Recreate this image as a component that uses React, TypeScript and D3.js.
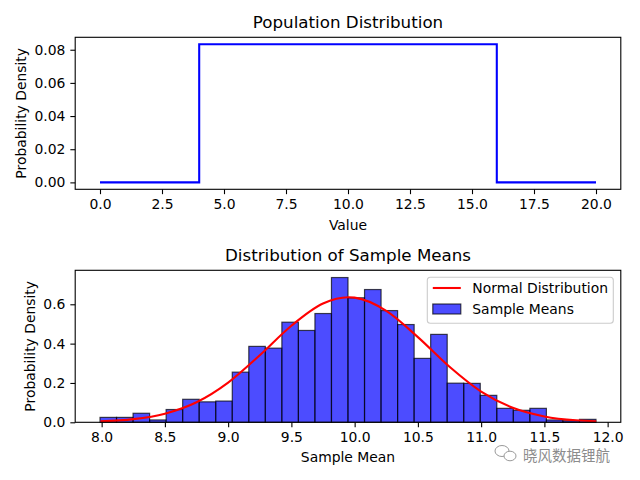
import { useEffect, useRef } from 'react';
import * as d3 from 'd3';

// Population (uniform 4..16) step line
const popX = [0, 4, 16, 20];
const popY = [0, 0.0833, 0, 0];
const popXTicks = [0, 2.5, 5, 7.5, 10, 12.5, 15, 17.5, 20];
const popYTicks = [0, 0.02, 0.04, 0.06, 0.08];

// Histogram of sample means (30 equal bins)
const binMin = 7.987;
const binMax = 11.908;
const sampleDensity = [
  0.025, 0.025, 0.046, 0.012, 0.065, 0.117, 0.104, 0.108, 0.255, 0.386,
  0.377, 0.509, 0.467, 0.553, 0.736, 0.633, 0.675, 0.568, 0.497, 0.325,
  0.447, 0.199, 0.198, 0.137, 0.071, 0.061, 0.071, 0.012, 0.008, 0.015,
];

// Normal curve
const normX = [7.99, 8.25, 8.5, 8.75, 9.0, 9.25, 9.5, 9.75, 9.95, 10.0, 10.25, 10.5, 10.75, 11.0, 11.25, 11.5, 11.75, 11.91];
const normY = [0.005, 0.016, 0.044, 0.102, 0.202, 0.341, 0.491, 0.604, 0.636, 0.634, 0.567, 0.433, 0.282, 0.156, 0.074, 0.03, 0.01, 0.005];

const meanXTicks = [8.0, 8.5, 9.0, 9.5, 10.0, 10.5, 11.0, 11.5, 12.0];
const meanYTicks = [0, 0.2, 0.4, 0.6];

const FONT = 'DejaVu Sans, sans-serif';

export default function App() {
  const svgRef = useRef<SVGSVGElement>(null);

  useEffect(() => {
    if (!svgRef.current) return;
    const width = 640;
    const height = 480;
    const svg = d3.select(svgRef.current);
    svg.selectAll('*').remove();
    svg.attr('width', width).attr('height', height);

    svg.append('rect').attr('width', width).attr('height', height).attr('fill', '#fff');

    const left = 75.2;
    const right = 620.8;

    const styleAxis = (g: d3.Selection<SVGGElement, unknown, null, undefined>) => {
      g.select('.domain').remove();
      g.selectAll('line').attr('stroke', '#000').attr('stroke-width', 1.1);
      g.selectAll('text')
        .attr('fill', '#000')
        .attr('font-family', FONT)
        .attr('font-size', '13.9px');
    };

    const frame = (top: number, bottom: number) => {
      svg.append('rect')
        .attr('x', left)
        .attr('y', top)
        .attr('width', right - left)
        .attr('height', bottom - top)
        .attr('fill', 'none')
        .attr('stroke', '#000')
        .attr('stroke-width', 1.1);
    };

    const label = (text: string, x: number, y: number, size: number, rotate = false) => {
      const t = svg.append('text')
        .attr('font-family', FONT)
        .attr('font-size', `${size}px`)
        .attr('fill', '#000')
        .attr('text-anchor', 'middle')
        .text(text);
      if (rotate) t.attr('transform', `translate(${x},${y}) rotate(-90)`);
      else t.attr('x', x).attr('y', y);
    };

    // ---------- Top: population distribution ----------
    const t1 = 37.3;
    const b1 = 189.3;
    const x1 = d3.scaleLinear().domain([-1, 21]).range([left, right]);
    const y1 = d3.scaleLinear().domain([-0.00417, 0.0875]).range([b1, t1]);

    const popLine = d3.line<number>()
      .x((d) => x1(popX[d]))
      .y((d) => y1(popY[d]))
      .curve(d3.curveStepAfter);

    svg.append('path')
      .datum(d3.range(popX.length))
      .attr('fill', 'none')
      .attr('stroke', '#0000ff')
      .attr('stroke-width', 2.08)
      .attr('d', popLine);

    frame(t1, b1);

    svg.append('g')
      .attr('transform', `translate(0,${b1})`)
      .call(d3.axisBottom(x1).tickValues(popXTicks).tickFormat(d3.format('.1f')).tickSize(4.86).tickPadding(4.9))
      .call(styleAxis);

    svg.append('g')
      .attr('transform', `translate(${left},0)`)
      .call(d3.axisLeft(y1).tickValues(popYTicks).tickFormat(d3.format('.2f')).tickSize(4.86).tickPadding(4.9))
      .call(styleAxis);

    label('Population Distribution', (left + right) / 2, 28, 16.7);
    label('Value', (left + right) / 2, 230, 13.9);
    label('Probability Density', 26, (t1 + b1) / 2, 13.9, true);

    // ---------- Bottom: distribution of sample means ----------
    const t2 = 270.3;
    const b2 = 422.3;
    const span = binMax - binMin;
    const x2 = d3.scaleLinear().domain([binMin - span * 0.05, binMax + span * 0.05]).range([left, right]);
    const y2 = d3.scaleLinear().domain([0, 0.736 * 1.05]).range([b2, t2]);
    const edge = d3.scaleLinear().domain([0, sampleDensity.length]).range([binMin, binMax]);

    svg.append('g')
      .selectAll('rect')
      .data(sampleDensity)
      .enter()
      .append('rect')
      .attr('x', (_, i) => x2(edge(i)))
      .attr('y', (d) => y2(d))
      .attr('width', (_, i) => x2(edge(i + 1)) - x2(edge(i)))
      .attr('height', (d) => y2(0) - y2(d))
      .attr('fill', 'rgba(0,0,255,0.7)')
      .attr('stroke', 'rgba(0,0,0,0.7)')
      .attr('stroke-width', 1.2);

    const normLine = d3.line<number>()
      .x((d) => x2(normX[d]))
      .y((d) => y2(normY[d]))
      .curve(d3.curveMonotoneX);

    svg.append('path')
      .datum(d3.range(normX.length))
      .attr('fill', 'none')
      .attr('stroke', '#ff0000')
      .attr('stroke-width', 2.08)
      .attr('d', normLine);

    frame(t2, b2);

    svg.append('g')
      .attr('transform', `translate(0,${b2})`)
      .call(d3.axisBottom(x2).tickValues(meanXTicks).tickFormat(d3.format('.1f')).tickSize(4.86).tickPadding(4.9))
      .call(styleAxis);

    svg.append('g')
      .attr('transform', `translate(${left},0)`)
      .call(d3.axisLeft(y2).tickValues(meanYTicks).tickFormat(d3.format('.1f')).tickSize(4.86).tickPadding(4.9))
      .call(styleAxis);

    label('Distribution of Sample Means', (left + right) / 2, 261, 16.7);
    label('Sample Mean', (left + right) / 2, 462, 13.9);
    label('Probability Density', 35, (t2 + b2) / 2, 13.9, true);

    // Legend
    const lg = svg.append('g').attr('transform', 'translate(427.3,277.3)');
    lg.append('rect')
      .attr('width', 186)
      .attr('height', 46)
      .attr('rx', 3)
      .attr('fill', 'rgba(255,255,255,0.8)')
      .attr('stroke', '#cccccc')
      .attr('stroke-width', 1.1);
    lg.append('line')
      .attr('x1', 5.5).attr('x2', 33.5)
      .attr('y1', 10.7).attr('y2', 10.7)
      .attr('stroke', '#ff0000')
      .attr('stroke-width', 2.08);
    lg.append('rect')
      .attr('x', 5.5).attr('y', 26.7)
      .attr('width', 28).attr('height', 10)
      .attr('fill', 'rgba(0,0,255,0.7)')
      .attr('stroke', 'rgba(0,0,0,0.7)')
      .attr('stroke-width', 1.2);
    const legendText = ['Normal Distribution', 'Sample Means'];
    lg.selectAll('text.lt')
      .data(legendText)
      .enter()
      .append('text')
      .attr('x', 45)
      .attr('y', (_, i) => 15.7 + i * 21)
      .attr('font-family', FONT)
      .attr('font-size', '13.9px')
      .attr('fill', '#000')
      .text((d) => d);

    // Watermark
    const wm = svg.append('g').attr('fill', 'none').attr('stroke', '#9a9a9a').attr('stroke-width', 1);
    wm.append('ellipse').attr('cx', 502).attr('cy', 451).attr('rx', 7).attr('ry', 5.5);
    wm.append('ellipse').attr('cx', 510).attr('cy', 456).attr('rx', 6).attr('ry', 4.8).attr('fill', '#fff');
    svg.append('text')
      .attr('x', 523)
      .attr('y', 461)
      .attr('font-family', 'Noto Sans CJK SC, sans-serif')
      .attr('font-size', '14.5px')
      .attr('fill', '#8c8c8c')
      .text('晓风数据锂航');
  }, []);

  return (
    <svg
      ref={svgRef}
      style={{ position: 'absolute', left: 0, top: 0, display: 'block' }}
    />
  );
}
